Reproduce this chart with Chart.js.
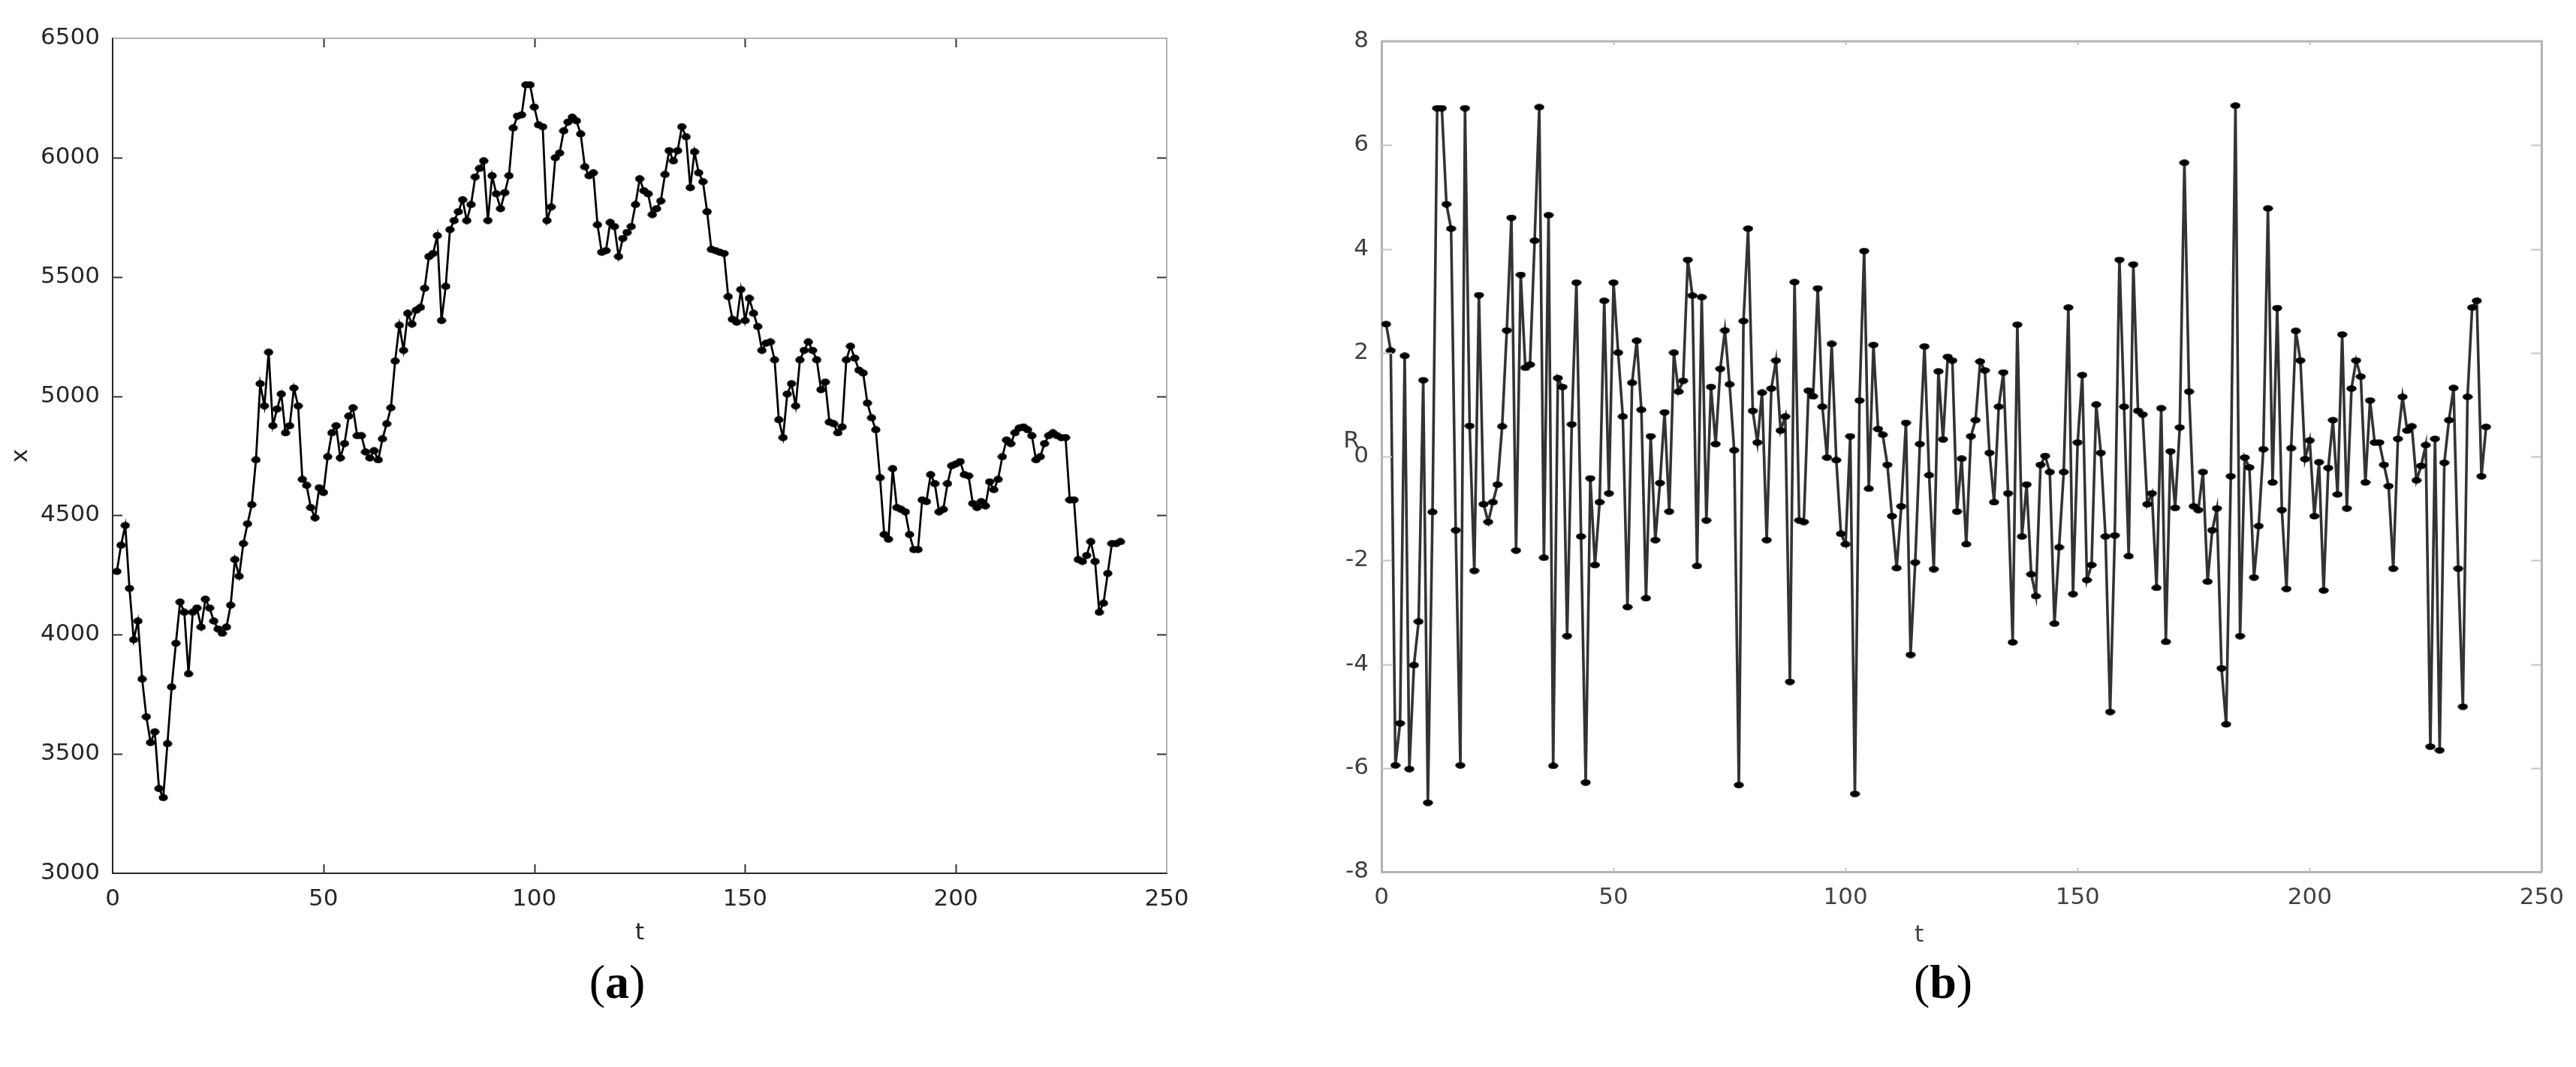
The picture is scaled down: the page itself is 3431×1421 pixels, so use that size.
<!DOCTYPE html>
<html>
<head>
<meta charset="utf-8">
<script src="https://cdn.jsdelivr.net/npm/chart.js@4.4.1/dist/chart.umd.min.js"></script>
<style>
html,body{margin:0;padding:0;background:#fff;}
#page{position:relative;width:3431px;height:1421px;overflow:hidden;background:#fff;}
#wrapA{position:absolute;left:0;top:0;width:1660px;height:1290px;}
#wrapB{position:absolute;left:1700px;top:0;width:1731px;height:1290px;}
.lbl{position:absolute;font-family:"DejaVu Sans","Liberation Sans",Arial,sans-serif;white-space:nowrap;transform:translate(-50%,-50%);}
.sub{position:absolute;font-family:"Liberation Serif","Times New Roman",serif;font-size:64px;color:#000;transform:translate(-50%,-50%);white-space:nowrap;}
</style>
</head>
<body>
<div id="page">
  <div id="wrapA"><canvas id="cA" width="1660" height="1290"></canvas></div>
  <div id="wrapB"><canvas id="cB" width="1731" height="1290"></canvas></div>
  <div class="lbl" style="left:2556px;top:1243px;font-size:31px;color:#404040">t</div>
  <div class="lbl" style="left:1800px;top:585px;font-size:31px;color:#404040">R</div>
  <div class="sub" style="left:822px;top:1308px">(<b>a</b>)</div>
  <div class="sub" style="left:2588px;top:1308px">(<b>b</b>)</div>
</div>
<script>
// ---- data ----
const xSeries = [4265,4375,4458,4194,3979,4057,3814,3656,3548,3593,
3355,3317,3543,3781,3964,4137,4094,3836,4094,4112,
4032,4149,4112,4057,4024,4006,4032,4124,4315,4245,
4382,4465,4545,4733,5052,4959,5184,4876,4946,5009,
4846,4876,5034,4959,4651,4626,4533,4490,4616,4596,
4746,4846,4876,4741,4801,4916,4951,4834,4834,4766,
4741,4771,4733,4821,4884,4951,5147,5297,5192,5347,
5302,5360,5372,5452,5585,5598,5673,5317,5460,5698,
5736,5773,5823,5736,5803,5919,5954,5986,5736,5924,
5848,5786,5853,5924,6124,6174,6179,6305,6305,6212,
6137,6129,5736,5793,5999,6019,6112,6149,6169,6154,
6099,5961,5924,5936,5718,5603,5610,5728,5711,5585,
5661,5686,5711,5803,5911,5861,5848,5761,5786,5818,
5929,6029,5986,6029,6129,6087,5874,6024,5936,5899,
5773,5615,5610,5603,5598,5417,5322,5310,5447,5317,
5410,5347,5292,5192,5222,5227,5152,4901,4826,5009,
5052,4959,5152,5192,5227,5192,5152,5027,5059,4891,
4884,4846,4871,5152,5209,5159,5109,5097,4971,4909,
4859,4658,4420,4400,4696,4533,4525,4515,4420,4357,
4357,4565,4558,4671,4633,4515,4525,4633,4708,4716,
4726,4671,4666,4550,4533,4558,4540,4641,4608,4651,
4746,4816,4801,4846,4866,4871,4859,4834,4733,4746,
4801,4834,4846,4834,4826,4826,4565,4565,4315,4307,
4332,4390,4307,4094,4132,4257,4382,4382,4390];

const rSeries = [2.55,2.04,-5.95,-5.14,1.94,-6.02,-4.02,-3.18,1.47,-6.67,
-1.07,6.71,6.71,4.86,4.39,-1.42,-5.95,6.71,0.59,-2.20,
3.11,-0.92,-1.26,-0.88,-0.54,0.58,2.43,4.60,-1.81,3.50,
1.71,1.77,4.16,6.73,-1.95,4.65,-5.96,1.51,1.34,-3.46,
0.62,3.35,-1.54,-6.28,-0.42,-2.09,-0.88,3.00,-0.71,3.35,
2.00,0.77,-2.90,1.42,2.23,0.90,-2.73,0.39,-1.61,-0.51,
0.85,-1.06,2.00,1.25,1.46,3.79,3.10,-2.11,3.07,-1.23,
1.34,0.24,1.69,2.43,1.39,0.12,-6.33,2.61,4.39,0.88,
0.27,1.23,-1.61,1.31,1.85,0.50,0.77,-4.34,3.36,-1.23,
-1.26,1.27,1.16,3.24,0.96,-0.02,2.17,-0.07,-1.49,-1.69,
0.39,-6.50,1.08,3.96,-0.62,2.15,0.53,0.42,-0.16,-1.15,
-2.15,-0.96,0.65,-3.82,-2.04,0.24,2.12,-0.36,-2.17,1.64,
0.33,1.92,1.85,-1.06,-0.04,-1.69,0.39,0.70,1.83,1.66,
0.07,-0.88,0.96,1.62,-0.71,-3.58,2.54,-1.54,-0.54,-2.27,
-2.69,-0.16,0.01,-0.30,-3.22,-1.75,-0.30,2.87,-2.65,0.27,
1.57,-2.38,-2.09,1.00,0.07,-1.54,-4.92,-1.52,3.79,0.96,
-1.92,3.70,0.88,0.81,-0.92,-0.71,-2.53,0.93,-3.57,0.10,
-0.99,0.56,5.66,1.25,-0.96,-1.03,-0.30,-2.41,-1.42,-1.00,
-4.08,-5.16,-0.38,6.76,-3.46,-0.02,-0.21,-2.33,-1.34,0.14,
4.78,-0.50,2.86,-1.03,-2.55,0.16,2.42,1.85,-0.05,0.31,
-1.15,-0.11,-2.58,-0.22,0.70,-0.73,2.35,-1.00,1.31,1.85,
1.54,-0.50,1.08,0.27,0.27,-0.16,-0.57,-2.16,0.34,1.15,
0.50,0.58,-0.46,-0.18,0.22,-5.59,0.34,-5.66,-0.12,0.70,
1.32,-2.16,-4.82,1.15,2.87,3.00,-0.38,0.57];

const tTicks = [0, 50, 100, 150, 200, 250];
const xTicksY = [3000, 3500, 4000, 4500, 5000, 5500, 6000, 6500];
const rTicksY = [-8, -6, -4, -2, 0, 2, 4, 6, 8];

// ---- helpers ----
Chart.defaults.font.family = '"DejaVu Sans", "Liberation Sans", Arial, sans-serif';

function ellipseMarker(w, h, color) {
  const c = document.createElement('canvas');
  c.width = w; c.height = h;
  const g = c.getContext('2d');
  g.fillStyle = color;
  g.beginPath();
  g.ellipse(w / 2, h / 2, w / 2 - 0.3, h / 2 - 0.3, 0, 0, Math.PI * 2);
  g.fill();
  return c;
}

const boxPlugin = {
  id: 'matlabBox',
  afterDraw(chart, args, o) {
    const ctx = chart.ctx, a = chart.chartArea, xs = chart.scales.x, ys = chart.scales.y;
    ctx.save();
    ctx.strokeStyle = o.tickColor;
    ctx.lineWidth = o.tickWidth;
    ctx.beginPath();
    xs.ticks.forEach(t => {
      const px = Math.round(xs.getPixelForValue(t.value)) + 0.5;
      if (px <= a.left + 2 || px >= a.right - 2) return;
      ctx.moveTo(px, a.bottom); ctx.lineTo(px, a.bottom - o.xLen);
      ctx.moveTo(px, a.top); ctx.lineTo(px, a.top + o.xLen);
    });
    ys.ticks.forEach(t => {
      const py = Math.round(ys.getPixelForValue(t.value)) + 0.5;
      if (py <= a.top + 2 || py >= a.bottom - 2) return;
      ctx.moveTo(a.left, py); ctx.lineTo(a.left + o.yLen, py);
      ctx.moveTo(a.right, py); ctx.lineTo(a.right - o.yLen, py);
    });
    ctx.stroke();
    ctx.strokeStyle = o.boxColor;
    ctx.lineWidth = o.boxWidth;
    ctx.beginPath();
    ctx.moveTo(a.left, a.top); ctx.lineTo(a.right, a.top); ctx.lineTo(a.right, a.bottom);
    ctx.stroke();
    ctx.restore();
  }
};

function makeChart(canvasId, series, yTicks, cfg) {
  const pts = series.map((v, i) => ({ x: i + 1, y: v }));
  return new Chart(document.getElementById(canvasId), {
    type: 'line',
    data: { datasets: [{
      data: pts,
      borderColor: cfg.lineColor,
      borderWidth: cfg.lineWidth,
      pointStyle: cfg.marker,
      pointRadius: 5,
      pointBackgroundColor: '#000',
      pointBorderWidth: 0,
      tension: 0,
      fill: false
    }]},
    options: {
      responsive: false,
      animation: false,
      devicePixelRatio: 1,
      events: [],
      layout: { padding: cfg.padding },
      plugins: {
        legend: { display: false },
        tooltip: { enabled: false },
        matlabBox: cfg.box
      },
      scales: {
        x: {
          type: 'linear', min: 0, max: 250,
          afterBuildTicks: s => { s.ticks = tTicks.map(v => ({ value: v })); },
          afterFit: s => { s.height = cfg.xAxisH; },
          grid: { display: false, drawTicks: false },
          border: { display: true, color: cfg.axisColor, width: cfg.axisWidth },
          ticks: { font: { size: 31 }, color: cfg.tickColor, padding: 16, maxRotation: 0, autoSkip: false,
                   callback: v => String(v) },
          title: cfg.xTitle
        },
        y: {
          type: 'linear', min: yTicks[0], max: yTicks[yTicks.length - 1],
          afterBuildTicks: s => { s.ticks = yTicks.map(v => ({ value: v })); },
          afterFit: s => { s.width = cfg.yAxisW; },
          grid: { display: false, drawTicks: false },
          border: { display: true, color: cfg.axisColor, width: cfg.axisWidth },
          ticks: { font: { size: 31 }, color: cfg.tickColor, padding: 17, autoSkip: false,
                   callback: v => String(v) },
          title: cfg.yTitle
        }
      }
    },
    plugins: [boxPlugin]
  });
}

makeChart('cA', xSeries, xTicksY, {
  lineColor: '#000', lineWidth: 2.8,
  marker: ellipseMarker(13, 10, '#000'),
  padding: { left: 0, top: 51, right: 106, bottom: 0 },
  xAxisH: 127, yAxisW: 150,
  axisColor: '#262626', axisWidth: 2,
  tickColor: '#262626',
  box: { tickColor: '#333', tickWidth: 2, xLen: 12, yLen: 13, boxColor: '#9a9a9a', boxWidth: 1.5 },
  xTitle: { display: true, text: 't', color: '#262626', font: { size: 31 }, padding: { top: 0, bottom: 28 } },
  yTitle: { display: true, text: 'x', color: '#262626', font: { size: 31 }, padding: { top: 9, bottom: 0 } }
});

makeChart('cB', rSeries, rTicksY, {
  lineColor: '#333', lineWidth: 3.6,
  marker: ellipseMarker(14, 9, '#000'),
  padding: { left: 0, top: 55, right: 43, bottom: 0 },
  xAxisH: 129, yAxisW: 140,
  axisColor: '#b3b3b3', axisWidth: 3,
  tickColor: '#404040',
  box: { tickColor: '#c4c4c4', tickWidth: 2, xLen: 5, yLen: 14, boxColor: '#b3b3b3', boxWidth: 3 },
  xTitle: { display: false },
  yTitle: { display: false }
});
</script>
</body>
</html>
